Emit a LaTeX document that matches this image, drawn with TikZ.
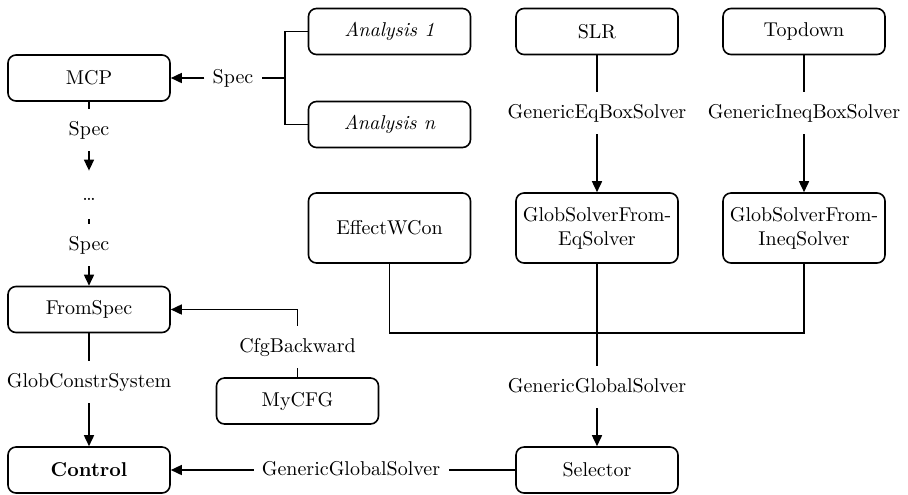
\documentclass[tikz,border=0pt]{standalone}
\usetikzlibrary{arrows.meta}
\begin{document}
\begin{tikzpicture}[x=0.5pt,y=-0.5pt,
  box/.style={draw,rounded corners=4pt,line width=0.8pt,minimum width=81pt,minimum height=23pt,align=center,inner sep=2pt},
  tallbox/.style={box,minimum height=35pt},
  lbl/.style={inner xsep=4pt,inner ysep=6pt,text height=7pt,text depth=2pt},
  dotsn/.style={inner xsep=4pt,inner ysep=7.5pt,text height=7pt,text depth=2pt},
  ln/.style={line width=0.8pt},
  arr/.style={ln,-{Triangle[length=5.5pt,width=5pt]}}]
\useasboundingbox (0,0) rectangle (908,494);
% boxes
\node[box] (mcp) at (89,78) {MCP};
\node[box] (a1) at (389.5,31.5) {\itshape Analysis 1};
\node[box] (an) at (389.5,124.5) {\itshape Analysis n};
\node[box] (slr) at (597,31.5) {SLR};
\node[box] (top) at (804,31.5) {Topdown};
\node[tallbox] (eff) at (389.5,228) {EffectWCon};
\node[tallbox] (geq) at (597,228) {GlobSolverFrom-\\EqSolver};
\node[tallbox] (gineq) at (804,228) {GlobSolverFrom-\\IneqSolver};
\node[box] (fs) at (89,309.5) {FromSpec};
\node[box] (cfg) at (297.5,401) {MyCFG};
\node[box] (ctl) at (89,470) {\bfseries Control};
\node[box] (sel) at (597,470) {Selector};
% labels
\node[lbl] (s1) at (233,78) {Spec};
\node[lbl] (s2) at (89,130) {Spec};
\node[dotsn] (dots) at (89,195) {\dots};
\node[lbl] (s3) at (89,245) {Spec};
\node[lbl] (leq) at (597,113) {GenericEqBoxSolver};
\node[lbl] (lineq) at (804,113) {GenericIneqBoxSolver};
\node[lbl] (lggs) at (597,387) {GenericGlobalSolver};
\node[lbl] (lcfg) at (297.5,347) {CfgBackward};
\node[lbl] (lgcs) at (89,382) {GlobConstrSystem};
\node[lbl] (lggs2) at (351,470) {GenericGlobalSolver};
\coordinate (j) at (285,78);
\coordinate (jb) at (389.5,333);
% connectors
\draw[ln] (a1.west) -| (j) |- (an.west);
\draw[ln] (j) -- (s1);
\draw[arr] (s1) -- (mcp);
\draw[ln] (mcp) -- (s2);
\draw[arr] (s2) -- (dots);
\draw[ln] (dots) -- (s3);
\draw[arr] (s3) -- (fs);
\draw[ln] (slr) -- (leq);
\draw[arr] (leq) -- (geq);
\draw[ln] (top) -- (lineq);
\draw[arr] (lineq) -- (gineq);
\draw[ln] (eff.south) -- (jb) -| (gineq.south);
\draw[ln] (geq) -- (lggs);
\draw[arr] (lggs) -- (sel);
\draw[ln] (cfg) -- (lcfg);
\draw[arr] (lcfg) |- (fs.east);
\draw[ln] (fs) -- (lgcs);
\draw[arr] (lgcs) -- (ctl);
\draw[ln] (sel) -- (lggs2);
\draw[arr] (lggs2) -- (ctl);
\end{tikzpicture}
\end{document}
